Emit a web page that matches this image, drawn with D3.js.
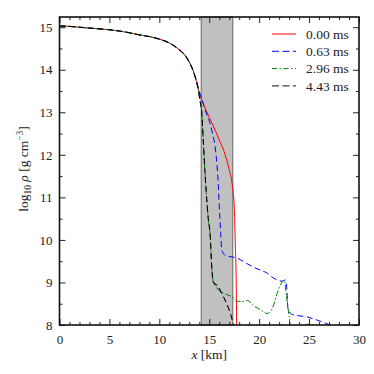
<!DOCTYPE html>
<html>
<head>
<meta charset="utf-8">
<script src="https://cdn.jsdelivr.net/npm/d3@7"></script>
<style>
  body { margin: 0; background: #fff; }
  svg text { font-family: 'Liberation Serif', 'DejaVu Serif', serif !important; }
</style>
</head>
<body>
<div id="chart"></div>
<script>
// values
var commonX = [0, 1, 2, 3, 4, 5, 6, 7, 8, 9, 10, 11, 12, 12.5, 13, 13.5, 13.9];
var commonY = [15.03, 15.02, 15.0, 14.98, 14.96, 14.94, 14.91, 14.87, 14.82, 14.78, 14.72, 14.63, 14.47, 14.36, 14.18, 13.9, 13.55];

var redX = [14.1, 14.5, 15.0, 15.5, 16.0, 16.5, 17.0, 17.3, 17.5, 17.6, 17.7, 17.75];
var redY = [13.38, 13.15, 12.88, 12.63, 12.35, 12.07, 11.65, 11.3, 10.8, 10.0, 9.0, 7.9];

var blueX = [14.1, 14.6, 15.25, 15.7, 15.9, 16.0, 16.15, 16.25, 16.6, 17.8, 18.8, 19.5, 20.1, 20.8, 21.4, 22.3, 22.6, 22.75, 22.9, 23.4, 24.8, 26.1, 27.1];
var blueY = [13.42, 13.05, 12.58, 11.95, 11.33, 10.8, 10.15, 9.76, 9.64, 9.57, 9.44, 9.35, 9.29, 9.22, 9.11, 9.03, 9.06, 8.9, 8.35, 8.24, 8.19, 8.09, 8.0];

var greenX = [14.05, 14.25, 14.4, 14.58, 14.75, 14.9, 15.08, 15.25, 15.4, 15.75, 16.6, 17.45, 17.8, 18.6, 18.8, 19.4, 20.1, 20.8, 21.3, 21.8, 22.3, 22.5, 22.75, 23.0, 23.15, 23.8, 24.5, 24.9, 25.3];
var greenY = [13.3, 13.0, 12.35, 11.56, 10.95, 10.5, 10.15, 9.36, 9.01, 8.87, 8.73, 8.64, 8.56, 8.55, 8.58, 8.46, 8.36, 8.27, 8.38, 8.74, 9.01, 9.05, 8.66, 8.2, 7.95, 7.9, 7.98, 8.02, 7.97];

var blackX = [14.05, 14.25, 14.4, 14.58, 14.75, 14.9, 15.08, 15.25, 15.4, 15.78, 16.45, 16.95, 17.28, 17.45];
var blackY = [13.3, 13.0, 12.35, 11.56, 10.95, 10.5, 10.15, 9.36, 9.01, 8.93, 8.65, 8.38, 8.14, 7.95];

var labels = ["0.00 ms", "0.63 ms", "2.96 ms", "4.43 ms"];
var bandX = [14.2, 17.35];
var xTicks = [0, 5, 10, 15, 20, 25, 30];
var yTicks = [8, 9, 10, 11, 12, 13, 14, 15];

var serif = "'Liberation Serif', 'DejaVu Serif', serif";

// svg size and margins
var svgWidth = 374;
var svgHeight = 374;
var margin = { top: 17, right: 15, bottom: 49, left: 59.5 };
var width = svgWidth - margin.left - margin.right;
var height = svgHeight - margin.top - margin.bottom;

var svg = d3.select("#chart").append("svg")
    .attr("width", svgWidth)
    .attr("height", svgHeight);

var g = svg.append("g")
    .attr("transform", `translate(${margin.left}, ${margin.top})`);

var xScale = d3.scaleLinear().domain([0, 30]).range([0, width]);
var yScale = d3.scaleLinear().domain([8, 15.24]).range([height, 0]);

g.append("clipPath").attr("id", "clip")
    .append("rect").attr("width", width).attr("height", height);

// shaded region
g.append("rect")
    .attr("x", xScale(bandX[0]))
    .attr("y", 0)
    .attr("width", xScale(bandX[1]) - xScale(bandX[0]))
    .attr("height", height)
    .attr("fill", "#c0c0c0")
    .attr("stroke", "#7f7f7f")
    .attr("stroke-width", 1.3);

// build series
function joinXY(xs, ys) {
    return xs.map((x, i) => [x, ys[i]]);
}
var common = joinXY(commonX, commonY);
var series = [
    { name: labels[0], pts: common.concat(joinXY(redX, redY)), color: "#ff0000", dash: null, w: 1 },
    { name: labels[1], pts: common.concat(joinXY(blueX, blueY)), color: "#0000ff", dash: "6,3.5", w: 1 },
    { name: labels[2], pts: common.concat(joinXY(greenX, greenY)), color: "#008000", dash: "6,2,1.5,2", w: 1 },
    { name: labels[3], pts: common.concat(joinXY(blackX, blackY)), color: "#000000", dash: "6,3.5", w: 1.1 }
];

var line = d3.line()
    .x(d => xScale(d[0]))
    .y(d => yScale(d[1]))
    .curve(d3.curveMonotoneX);

g.append("g").attr("clip-path", "url(#clip)")
    .selectAll("path").data(series).enter()
    .append("path")
    .attr("d", d => line(d.pts))
    .attr("fill", "none")
    .attr("stroke", d => d.color)
    .attr("stroke-width", d => d.w)
    .attr("stroke-dasharray", d => d.dash);

// axes, ticks pointing inward on all four sides
function styleAxis(sel) {
    sel.attr("font-family", serif);
    sel.select(".domain").remove();
    sel.selectAll(".tick line").attr("stroke", "#222").attr("stroke-width", 1);
    sel.selectAll("text").attr("font-size", 13).attr("fill", "#222");
}
var xMinor = d3.range(0, 31, 1).filter(v => v % 5 !== 0);
var yMinor = d3.range(8.5, 15.2, 1);

g.append("g").attr("transform", `translate(0, ${height})`)
    .call(d3.axisBottom(xScale).tickValues(xTicks).tickSize(-6).tickPadding(10).tickFormat(d3.format("d")))
    .call(styleAxis);
g.append("g").attr("transform", `translate(0, ${height})`)
    .call(d3.axisBottom(xScale).tickValues(xMinor).tickSize(-3).tickFormat(""))
    .call(styleAxis);
g.append("g")
    .call(d3.axisTop(xScale).tickValues(xTicks).tickSize(-6).tickFormat(""))
    .call(styleAxis);
g.append("g")
    .call(d3.axisTop(xScale).tickValues(xMinor).tickSize(-3).tickFormat(""))
    .call(styleAxis);

g.append("g")
    .call(d3.axisLeft(yScale).tickValues(yTicks).tickSize(-6).tickPadding(7).tickFormat(d3.format("d")))
    .call(styleAxis);
g.append("g")
    .call(d3.axisLeft(yScale).tickValues(yMinor).tickSize(-3).tickFormat(""))
    .call(styleAxis);
g.append("g").attr("transform", `translate(${width}, 0)`)
    .call(d3.axisRight(yScale).tickValues(yTicks).tickSize(-6).tickFormat(""))
    .call(styleAxis);
g.append("g").attr("transform", `translate(${width}, 0)`)
    .call(d3.axisRight(yScale).tickValues(yMinor).tickSize(-3).tickFormat(""))
    .call(styleAxis);

// frame
g.append("rect")
    .attr("width", width).attr("height", height)
    .attr("fill", "none").attr("stroke", "#111").attr("stroke-width", 1.6);

// legend
var legend = g.append("g").attr("transform", `translate(${272 - margin.left}, ${34 - margin.top})`);
series.forEach(function (s, i) {
    var row = legend.append("g").attr("transform", `translate(0, ${i * 17.3})`);
    row.append("line")
        .attr("x1", 0).attr("x2", 24)
        .attr("stroke", s.color)
        .attr("stroke-opacity", i === 3 ? 0.75 : 1)
        .attr("stroke-width", s.w)
        .attr("stroke-dasharray", i === 2 ? "5,2.5,1.5,2.5" : (s.dash ? "7,3.5" : null));
    row.append("text")
        .attr("x", 34).attr("dy", "0.35em")
        .attr("font-size", 13.5)
        .attr("fill", "#222")
        .text(s.name);
});

// axis labels
g.append("text")
    .attr("x", width / 2).attr("y", height + 34)
    .attr("text-anchor", "middle")
    .attr("font-size", 13.5)
    .attr("fill", "#222")
    .html('<tspan font-style="italic">x</tspan> [km]');

g.append("text")
    .attr("transform", `translate(${28 - margin.left}, ${height / 2 - 2}) rotate(-90)`)
    .attr("text-anchor", "middle")
    .attr("font-size", 13.5)
    .attr("fill", "#222")
    .html('log<tspan font-size="9.5" dy="3">10</tspan><tspan dy="-3"> </tspan><tspan font-style="italic">ρ</tspan><tspan>  [g cm</tspan><tspan font-size="9.5" dy="-5">−3</tspan><tspan dy="5">]</tspan>');
</script>
</body>
</html>
